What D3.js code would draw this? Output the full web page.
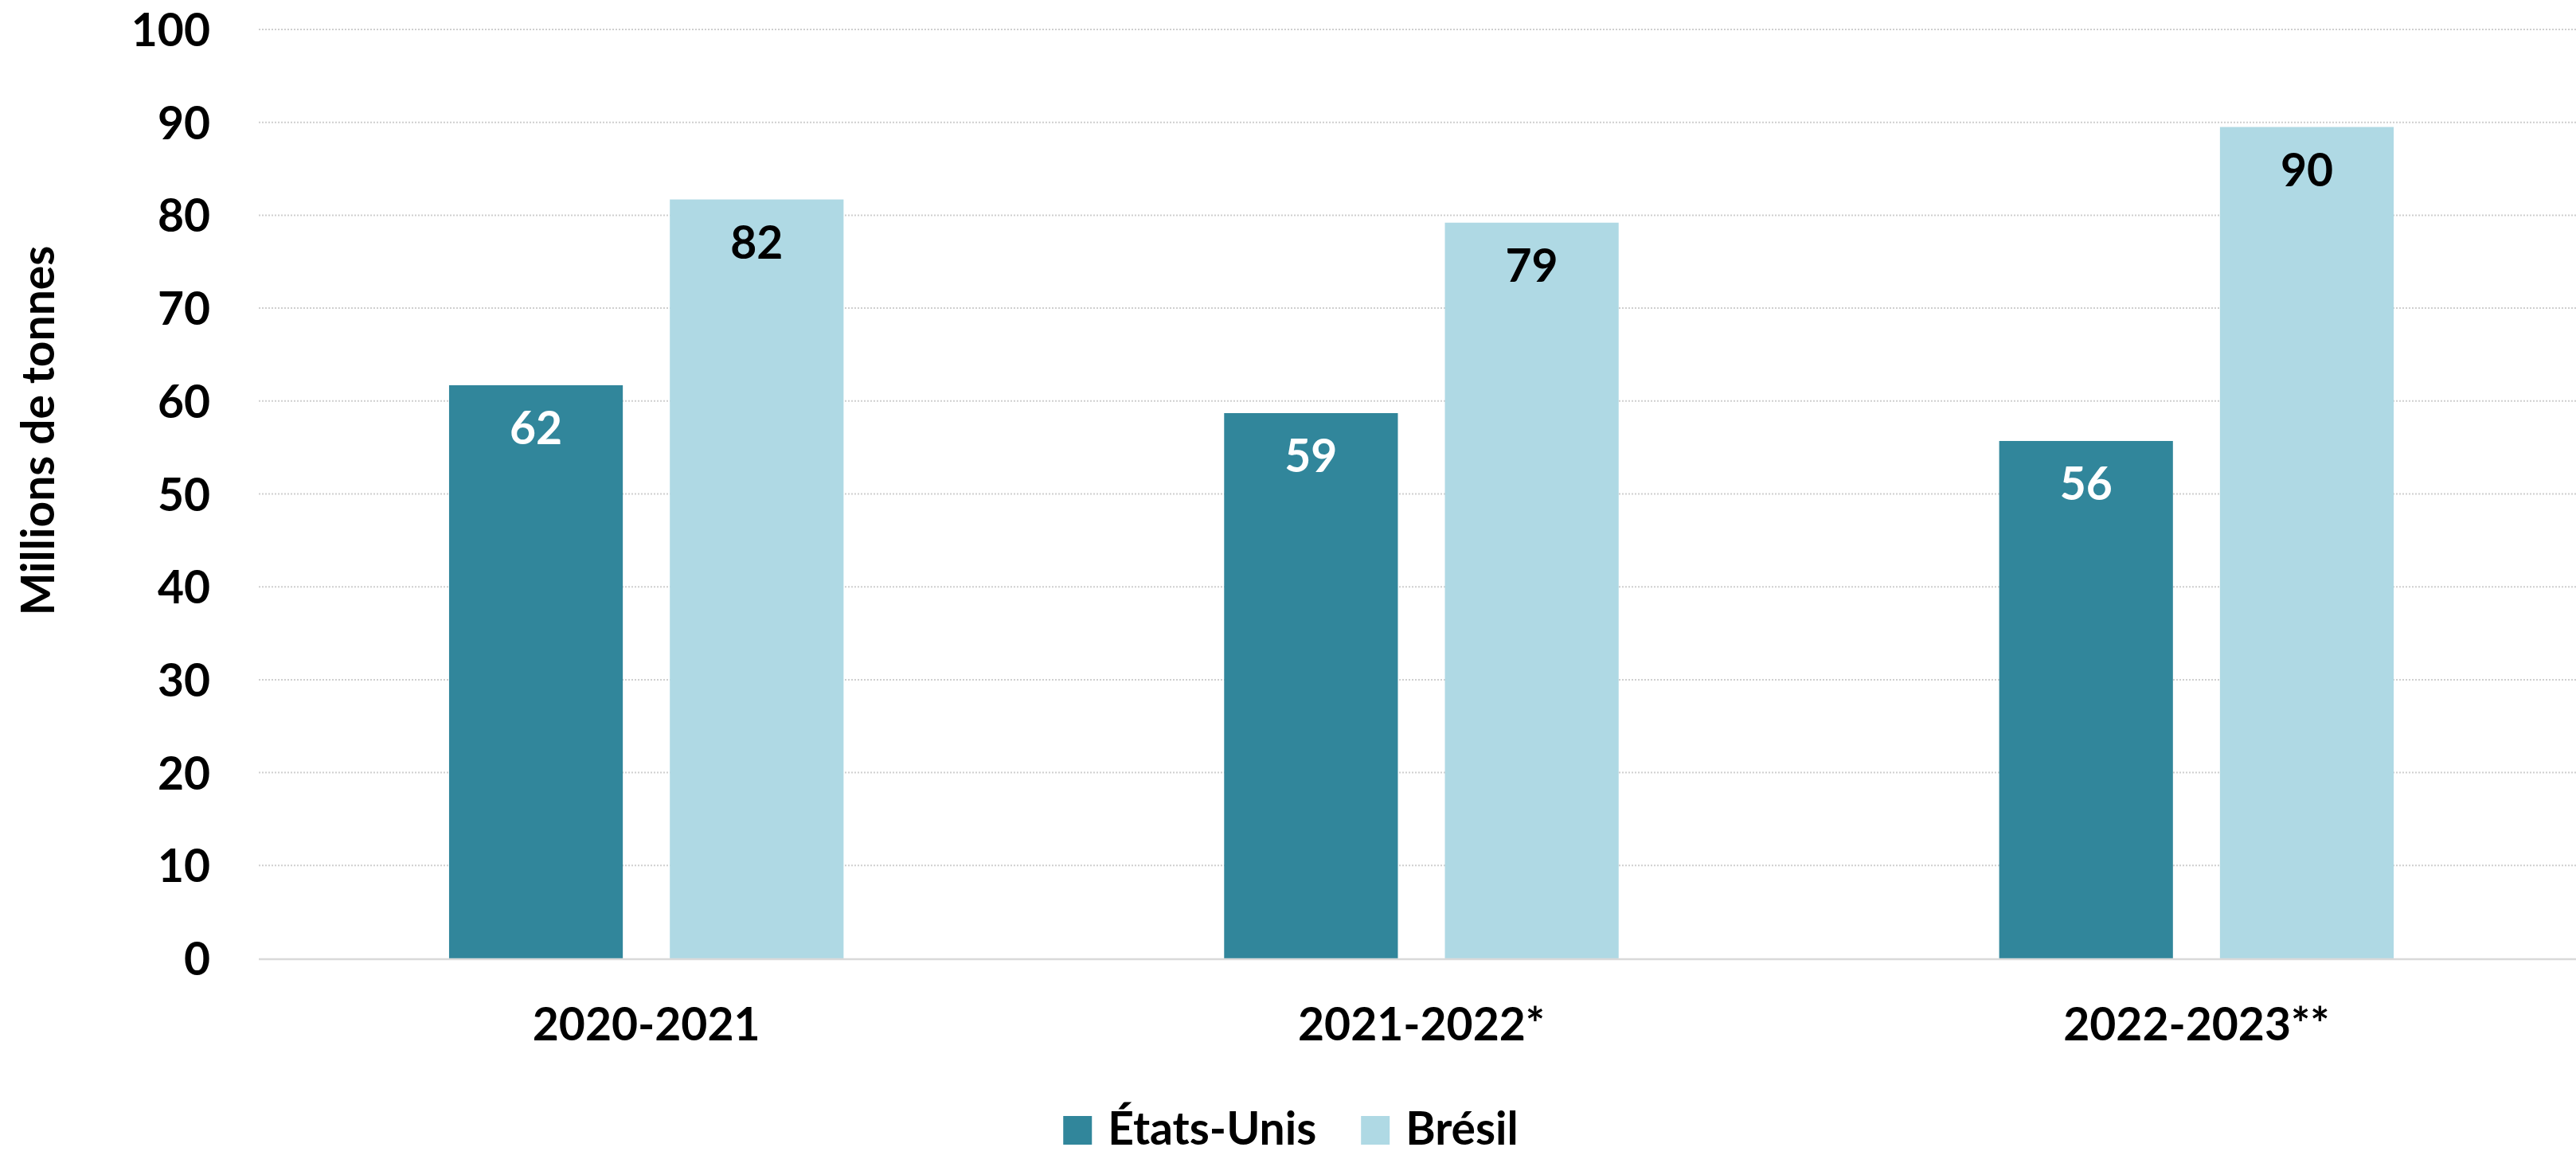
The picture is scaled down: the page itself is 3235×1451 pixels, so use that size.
<!DOCTYPE html>
<html lang="fr">
<head>
<meta charset="utf-8">
<script src="https://cdn.jsdelivr.net/npm/d3@7"></script>
<style>
  body { margin: 0; background: #fff; }
  svg { display: block; font-family: Lato, "Open Sans", sans-serif; font-weight: bold; }
</style>
</head>
<body>
<svg id="chart" width="3235" height="1451"></svg>
<script>
// data
const seasons = ["2020-2021", "2021-2022*", "2022-2023**"];
const series = ["États-Unis", "Brésil"];
const etatsUnis = [61.7, 58.7, 55.7];
const bresil = [81.7, 79.2, 89.5];
const yTicks = [0, 10, 20, 30, 40, 50, 60, 70, 80, 90, 100];
const colors = ["#31869b", "#afd9e4"];
const labelColors = ["#ffffff", "#000000"];

const svg = d3.select("#chart");
const fs = 57; // font size for every text

const plot = { left: 325, right: 3245, top: 37, bottom: 1204 };

const x0 = d3.scaleBand()
  .domain(seasons)
  .range([plot.left, plot.right])
  .paddingInner(0.491)
  .paddingOuter(0.2455);

const x1 = d3.scaleBand()
  .domain(series)
  .range([0, x0.bandwidth()])
  .paddingInner(0.213);

const y = d3.scaleLinear().domain([0, 100]).range([plot.bottom, plot.top]);

// gridlines
svg.append("g")
  .selectAll("line")
  .data(yTicks.filter(d => d > 0))
  .enter()
  .append("line")
  .attr("x1", plot.left)
  .attr("x2", plot.right)
  .attr("y1", d => y(d))
  .attr("y2", d => y(d))
  .attr("stroke", "#cfcfcf")
  .attr("stroke-width", 2)
  .attr("stroke-dasharray", "2,2");

// y axis (labels only)
const yAxis = svg.append("g")
  .attr("transform", `translate(${plot.left},0)`)
  .call(d3.axisLeft(y).tickValues(yTicks).tickSize(0).tickPadding(61));
yAxis.select(".domain").remove();
yAxis.selectAll("text")
  .attr("font-family", "Lato, 'Open Sans', sans-serif")
  .attr("font-weight", "bold")
  .attr("font-size", fs)
  .attr("fill", "#000")
  .attr("dy", "0.36em");

// axis title
svg.append("text")
  .attr("transform", `translate(68,541) rotate(-90)`)
  .attr("text-anchor", "middle")
  .attr("font-size", fs)
  .attr("fill", "#000")
  .text("Millions de tonnes");

// bars
const rows = seasons.map((s, i) => ({ season: s, values: [etatsUnis[i], bresil[i]] }));

const groups = svg.append("g")
  .selectAll("g")
  .data(rows)
  .enter()
  .append("g")
  .attr("transform", d => `translate(${x0(d.season)},0)`);

groups.selectAll("rect")
  .data(d => d.values.map((v, k) => ({ key: series[k], k: k, v: v })))
  .enter()
  .append("rect")
  .attr("x", d => x1(d.key))
  .attr("width", x1.bandwidth())
  .attr("y", d => y(d.v))
  .attr("height", d => y(0) - y(d.v))
  .attr("fill", d => colors[d.k]);

groups.selectAll("text")
  .data(d => d.values.map((v, k) => ({ key: series[k], k: k, v: v })))
  .enter()
  .append("text")
  .attr("x", d => x1(d.key) + x1.bandwidth() / 2)
  .attr("y", d => y(d.v) + 74)
  .attr("text-anchor", "middle")
  .attr("font-size", fs)
  .attr("fill", d => labelColors[d.k])
  .text(d => d3.format(".0f")(d.v));

// x axis baseline
svg.append("line")
  .attr("x1", plot.left)
  .attr("x2", plot.right)
  .attr("y1", y(0) + 1)
  .attr("y2", y(0) + 1)
  .attr("stroke", "#d9d9d9")
  .attr("stroke-width", 2.6);

// x labels
svg.append("g")
  .selectAll("text")
  .data(seasons)
  .enter()
  .append("text")
  .attr("x", d => x0(d) + x0.bandwidth() / 2)
  .attr("y", 1307)
  .attr("text-anchor", "middle")
  .attr("font-size", fs)
  .attr("fill", "#000")
  .text(d => d);

// legend
const legend = svg.append("g");
const box = 36, boxGap = 20, itemGap = 56;
let lx = 0;
series.forEach((s, i) => {
  const item = legend.append("g").attr("transform", `translate(${lx},0)`);
  item.append("rect")
    .attr("x", 0).attr("y", -box)
    .attr("width", box).attr("height", box)
    .attr("fill", colors[i]);
  const t = item.append("text")
    .attr("x", box + boxGap)
    .attr("y", 0)
    .attr("font-size", fs)
    .attr("fill", "#000")
    .text(s);
  lx += box + boxGap + t.node().getComputedTextLength() + itemGap;
});
const legendW = lx - itemGap;
legend.attr("transform", `translate(${1621 - legendW / 2},1438)`);
</script>
</body>
</html>
